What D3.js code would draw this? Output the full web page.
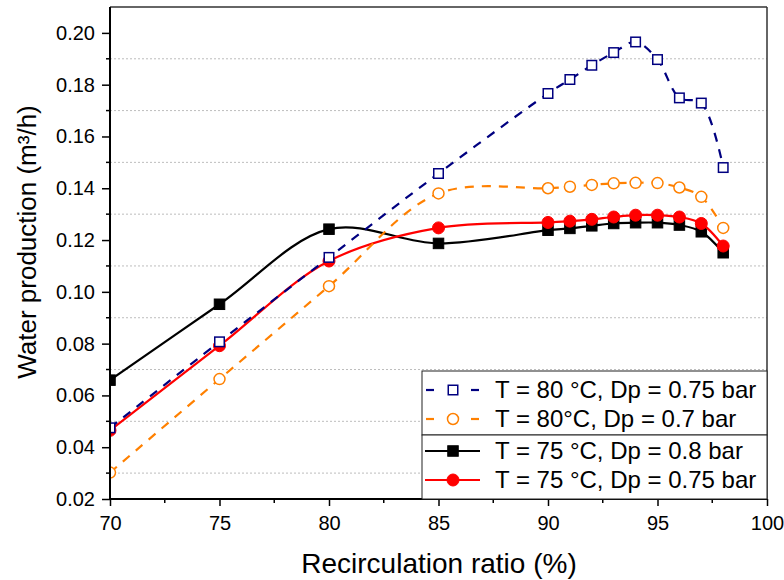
<!DOCTYPE html>
<html><head><meta charset="utf-8">
<script src="https://cdn.jsdelivr.net/npm/d3@7"></script>
<style>body{margin:0;background:#fff}svg{display:block}text{font-family:"Liberation Sans",Arial,sans-serif}</style>
</head><body><svg id="c" width="784" height="580"></svg>
<script>
const ratio = [70, 75, 80, 85, 90, 91, 92, 93, 94, 95, 96, 97, 98];
const s80_075 = [0.0475, 0.0807, 0.1133, 0.1457, 0.1766, 0.1820, 0.1875, 0.1924, 0.1965, 0.1897, 0.1749, 0.1729, 0.1480];
const s80_07  = [0.0302, 0.0663, 0.1022, 0.1380, 0.1400, 0.1406, 0.1413, 0.1419, 0.1421, 0.1420, 0.1403, 0.1367, 0.1247];
const s75_08  = [0.0659, 0.0952, 0.1242, 0.1187, 0.1238, 0.1245, 0.1255, 0.1264, 0.1267, 0.1267, 0.1258, 0.1232, 0.1151];
const s75_075 = [0.0465, 0.0792, 0.1119, 0.1247, 0.1268, 0.1273, 0.1280, 0.1289, 0.1296, 0.1296, 0.1289, 0.1264, 0.1177];
const xTicks = [70, 75, 80, 85, 90, 95, 100];
const yTicks = [0.02, 0.04, 0.06, 0.08, 0.10, 0.12, 0.14, 0.16, 0.18, 0.20];
const gridVals = [0.03, 0.05, 0.07, 0.09, 0.11, 0.13, 0.15, 0.17, 0.19];
const legendLabels = ["T = 80 °C, Dp = 0.75 bar", "T = 80°C, Dp = 0.7 bar", "T = 75 °C, Dp = 0.8 bar", "T = 75 °C, Dp = 0.75 bar"];

const L = 110, R = 767, T = 7, B = 499;
const svg = d3.select("#c");
const x = d3.scaleLinear().domain([70, 100]).range([L, R]);
const y = d3.scaleLinear().domain([0.02, 0.21]).range([B, T]);

svg.append("defs").append("clipPath").attr("id","clip").append("rect")
  .attr("x", L).attr("y", T).attr("width", R-L).attr("height", B-T);

// grid
svg.append("g").selectAll("line").data(gridVals).join("line")
  .attr("x1", L).attr("x2", R).attr("y1", d=>y(d)).attr("y2", d=>y(d))
  .attr("stroke", "#bdbdbd").attr("stroke-width", 1).attr("stroke-dasharray", "2,2");

// frame top/right
svg.append("line").attr("x1", L).attr("x2", R).attr("y1", T).attr("y2", T).attr("stroke", "#333").attr("stroke-width", 1.5);
svg.append("line").attr("x1", R).attr("x2", R).attr("y1", T).attr("y2", B).attr("stroke", "#333").attr("stroke-width", 1.5);

const series = [
  {v: s75_08, color: "#000000", dash: null, marker: "square", fill: "#000000"},
  {v: s75_075, color: "#ff0000", dash: null, marker: "circle", fill: "#ff0000"},
  {v: s80_07, color: "#ff8000", dash: "9,8", marker: "circle", fill: "#ffffff"},
  {v: s80_075, color: "#000080", dash: "9,8", marker: "square", fill: "#ffffff"}
];
const plot = svg.append("g").attr("clip-path", "url(#clip)");
const line = d3.line().x((d,i)=>x(ratio[i])).y(d=>y(d)).curve(d3.curveCatmullRom.alpha(0.5));

function drawMarker(g, m, cx, cy, col, fill, open) {
  if (m === "square") {
    const s = open ? 9.5 : 10.5;
    g.append("rect").attr("x", cx-s/2).attr("y", cy-s/2).attr("width", s).attr("height", s)
      .attr("fill", fill).attr("stroke", col).attr("stroke-width", open?1.5:1);
  } else {
    g.append("circle").attr("cx", cx).attr("cy", cy).attr("r", open?5.5:6)
      .attr("fill", fill).attr("stroke", col).attr("stroke-width", open?1.5:1);
  }
}
series.forEach(s => {
  plot.append("path").attr("d", line(s.v)).attr("fill", "none").attr("stroke", s.color)
    .attr("stroke-width", 2.2).attr("stroke-dasharray", s.dash);
  const open = s.fill === "#ffffff";
  s.v.forEach((d,i)=> drawMarker(plot, s.marker, x(ratio[i]), y(d), s.color, s.fill, open));
});

// axes
const xAxis = d3.axisBottom(x).tickValues(xTicks).tickSize(7).tickFormat(d3.format("d"));
const gx = svg.append("g").attr("transform", `translate(0,${B})`).call(xAxis);
gx.selectAll(".tick text").attr("font-size", 20).attr("dy", "1.05em").attr("fill", "#000");
gx.append("g").selectAll("line").data(d3.range(72.5, 100, 5)).join("line")
  .attr("x1", d=>x(d)).attr("x2", d=>x(d)).attr("y1", 0).attr("y2", 4).attr("stroke", "#000").attr("stroke-width", 1.5);
const yAxis = d3.axisLeft(y).tickValues(yTicks).tickSize(8).tickFormat(d3.format(".2f"));
const gy = svg.append("g").attr("transform", `translate(${L},0)`).call(yAxis);
gy.selectAll(".tick text").attr("font-size", 20).attr("fill", "#000").attr("x", -15);
gy.append("g").selectAll("line").data(gridVals).join("line")
  .attr("y1", d=>y(d)).attr("y2", d=>y(d)).attr("x1", 0).attr("x2", -4).attr("stroke", "#000").attr("stroke-width", 1.5);
[gx, gy].forEach(g => {
  g.select(".domain").attr("stroke", "#000").attr("stroke-width", 2);
  g.selectAll(".tick line").attr("stroke", "#000").attr("stroke-width", 1.5);
});
gx.select(".domain").attr("d", `M${L},0H${R}`);
gy.select(".domain").attr("d", `M0,${T}V${B}`);

svg.append("text").attr("x", 439).attr("y", 573).attr("text-anchor", "middle").attr("font-size", 28).text("Recirculation ratio (%)");
svg.append("text").attr("transform", "translate(36,242) rotate(-90)").attr("text-anchor", "middle").attr("font-size", 26).text("Water production (m³/h)");

// legend
const lg = svg.append("g");
const lx = 422, ly = 371, lw = R - lx;
lg.append("rect").attr("x", lx).attr("y", ly).attr("width", lw).attr("height", 64).attr("fill", "#fff").attr("stroke", "#222").attr("stroke-width", 1);
lg.append("rect").attr("x", lx).attr("y", ly+64).attr("width", lw).attr("height", B-ly-64).attr("fill", "#fff").attr("stroke", "#222").attr("stroke-width", 1);
const legOrder = [series[3], series[2], series[0], series[1]];
const rowY = [390, 419, 451, 480];
legOrder.forEach((s, i) => {
  const yy = rowY[i];
  if (s.dash) {
    lg.append("line").attr("x1", 426).attr("x2", 434).attr("y1", yy).attr("y2", yy).attr("stroke", s.color).attr("stroke-width", 2.2);
    lg.append("line").attr("x1", 471).attr("x2", 479).attr("y1", yy).attr("y2", yy).attr("stroke", s.color).attr("stroke-width", 2.2);
  } else {
    lg.append("line").attr("x1", 425).attr("x2", 480).attr("y1", yy).attr("y2", yy).attr("stroke", s.color).attr("stroke-width", 2.2);
  }
  drawMarker(lg, s.marker, 453, yy, s.color, s.fill, s.fill === "#ffffff");
  lg.append("text").attr("x", 495).attr("y", yy).attr("dy", "0.35em").attr("font-size", 24).text(legendLabels[i]);
});
</script></body></html>
